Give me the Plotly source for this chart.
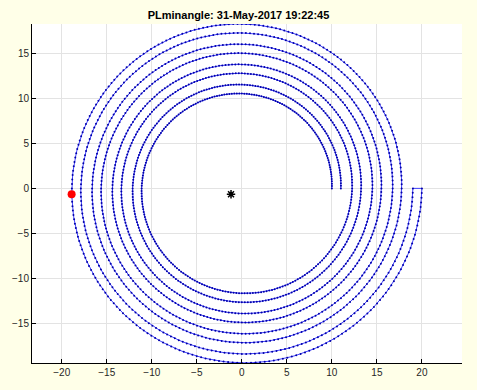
import numpy as np
import plotly.graph_objects as go

# ---- data ----
arm_start_radius = [10.0, 11.0]   # inner ends of the two spiral arms (on y=0)
arm_end_radius = [19.0, 20.0]     # outer ends of the two arms (on y=0)
arm_turns = [4, 4]                # full turns of each arm
points_per_turn = 240             # sample points per turn
red_point_x = [-18.9]
red_point_y = [-0.65]
star_point_x = [-1.2]
star_point_y = [-0.65]
x_ticks = [-20, -15, -10, -5, 0, 5, 10, 15, 20]
y_ticks = [-15, -10, -5, 0, 5, 10, 15]
title_text = "PLminangle: 31-May-2017 19:22:45"

def arm(r0, r1, turns):
    n = turns * points_per_turn + 1
    th = np.linspace(0, 2 * np.pi * turns, n)
    r = np.linspace(r0, r1, n)
    return r * np.cos(th), r * np.sin(th)

ax, ay = arm(arm_start_radius[0], arm_end_radius[0], arm_turns[0])
bx, by = arm(arm_start_radius[1], arm_end_radius[1], arm_turns[1])
xs = np.concatenate([ax, bx[::-1]])
ys = np.concatenate([ay, by[::-1]])

fig = go.Figure()
fig.add_trace(go.Scatter(
    x=xs, y=ys, mode="lines+markers",
    line=dict(color="#2b2bff", width=0.9),
    marker=dict(color="#0000a8", size=2),
    hoverinfo="skip", showlegend=False))
fig.add_trace(go.Scatter(
    x=red_point_x, y=red_point_y, mode="markers",
    marker=dict(color="#ff0000", size=8), showlegend=False))
fig.add_trace(go.Scatter(
    x=star_point_x, y=star_point_y, mode="markers",
    marker=dict(symbol="asterisk-open", color="black", size=7,
                line=dict(color="black", width=1.5)), showlegend=False))

axis_common = dict(
    showgrid=True, gridcolor="#e3e3e3", gridwidth=1,
    zeroline=False, showline=True, linecolor="black", linewidth=1,
    ticks="inside", ticklen=4, tickcolor="black",
    tickfont=dict(family="Liberation Sans, Arial, sans-serif", size=10, color="#262626"),
    mirror=False,
)
fig.update_xaxes(range=[-23.3, 24.45], tickvals=x_ticks, **axis_common)
fig.update_yaxes(range=[-19.45, 18.31], tickvals=y_ticks, **axis_common)

fig.update_layout(
    width=477, height=390,
    margin=dict(l=30, r=15, t=24, b=24),
    paper_bgcolor="#ffffe8", plot_bgcolor="white",
    title=dict(text="<b>" + title_text + "</b>", x=0.5, xanchor="center",
               y=1 - 15 / 390, yanchor="middle",
               font=dict(family="Liberation Sans, Arial, sans-serif", size=11, color="black")),
)
fig.write_html("out.html")
